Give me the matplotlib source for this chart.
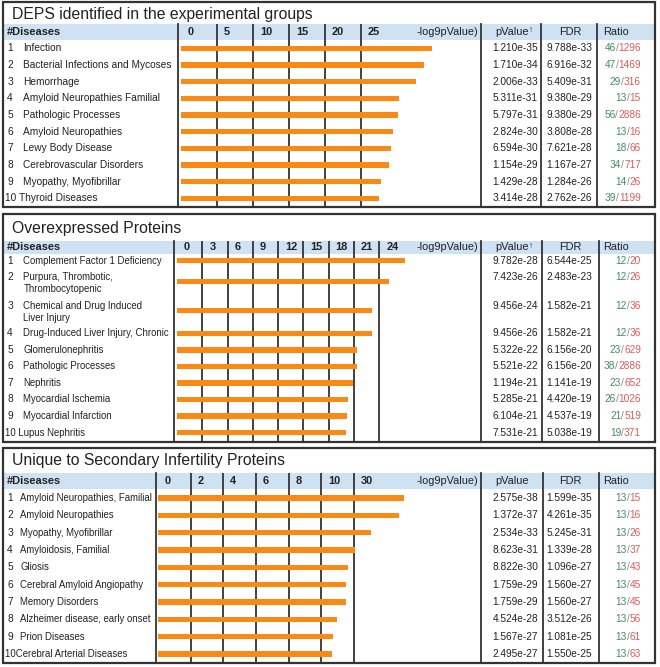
import matplotlib
matplotlib.use('Agg')
import matplotlib.pyplot as plt
from matplotlib.patches import Rectangle

plt.rcParams['font.family'] = ['Liberation Sans', 'DejaVu Sans']

W, H = 660, 667
ORANGE = '#fb8a14'
HEAD = '#cfe2f3'
LINE = '#333333'
TXT = '#222222'
GREEN = '#3f8f5f'
RED = '#df5b57'
SLASH = '#888888'
FS = 7.3
FS_HEAD = 7.9

# ---- DEPS identified in the experimental groups
deps_names = ['Infection', 'Bacterial Infections and Mycoses', 'Hemorrhage',
              'Amyloid Neuropathies Familial', 'Pathologic Processes',
              'Amyloid Neuropathies', 'Lewy Body Disease',
              'Cerebrovascular Disorders', 'Myopathy, Myofibrillar',
              'Thyroid Diseases']
deps_logp = [34.9, 33.8, 32.7, 30.3, 30.2, 29.5, 29.2, 28.9, 27.8, 27.5]
deps_pvalue = ['1.210e-35', '1.710e-34', '2.006e-33', '5.311e-31', '5.797e-31',
               '2.824e-30', '6.594e-30', '1.154e-29', '1.429e-28', '3.414e-28']
deps_fdr = ['9.788e-33', '6.916e-32', '5.409e-31', '9.380e-29', '9.380e-29',
            '3.808e-28', '7.621e-28', '1.167e-27', '1.284e-26', '2.762e-26']
deps_hits = [46, 47, 29, 13, 56, 13, 18, 34, 14, 39]
deps_total = [1296, 1469, 316, 15, 2886, 16, 66, 717, 26, 1199]
deps_ticks = [0, 5, 10, 15, 20, 25]
deps_tick_labels = ['0', '5', '10', '15', '20', '25']

# ---- Overexpressed Proteins
over_names = ['Complement Factor 1 Deficiency', 'Purpura, Thrombotic,\nThrombocytopenic',
              'Chemical and Drug Induced\nLiver Injury',
              'Drug-Induced Liver Injury, Chronic', 'Glomerulonephritis',
              'Pathologic Processes', 'Nephritis', 'Myocardial Ischemia',
              'Myocardial Infarction', 'Lupus Nephritis']
over_logp = [27.0, 25.2, 23.1, 23.1, 21.3, 21.3, 20.9, 20.3, 20.2, 20.1]
over_pvalue = ['9.782e-28', '7.423e-26', '9.456e-24', '9.456e-26', '5.322e-22',
               '5.521e-22', '1.194e-21', '5.285e-21', '6.104e-21', '7.531e-21']
over_fdr = ['6.544e-25', '2.483e-23', '1.582e-21', '1.582e-21', '6.156e-20',
            '6.156e-20', '1.141e-19', '4.420e-19', '4.537e-19', '5.038e-19']
over_hits = [12, 12, 12, 12, 23, 38, 23, 26, 21, 19]
over_total = [20, 26, 36, 36, 629, 2886, 652, 1026, 519, 371]
over_ticks = [0, 3, 6, 9, 12, 15, 18, 21, 24]
over_tick_labels = ['0', '3', '6', '9', '12', '15', '18', '21', '24']

# ---- Unique to Secondary Infertility Proteins
uniq_names = ['Amyloid Neuropathies, Familial', 'Amyloid Neuropathies',
              'Myopathy, Myofibrillar', 'Amyloidosis, Familial', 'Gliosis',
              'Cerebral Amyloid Angiopathy', 'Memory Disorders',
              'Alzheimer disease, early onset', 'Prion Diseases',
              'Cerebral Arterial Diseases']
uniq_logp = [37.6, 36.9, 32.6, 30.1, 29.1, 28.8, 28.8, 27.4, 26.8, 26.6]
uniq_pvalue = ['2.575e-38', '1.372e-37', '2.534e-33', '8.623e-31', '8.822e-30',
               '1.759e-29', '1.759e-29', '4.524e-28', '1.567e-27', '2.495e-27']
uniq_fdr = ['1.599e-35', '4.261e-35', '5.245e-31', '1.339e-28', '1.096e-27',
            '1.560e-27', '1.560e-27', '3.512e-26', '1.081e-25', '1.550e-25']
uniq_hits = [13, 13, 13, 13, 13, 13, 13, 13, 13, 13]
uniq_total = [15, 16, 26, 37, 43, 45, 45, 56, 61, 63]
uniq_ticks = [0, 5, 10, 15, 20, 25, 30]
uniq_tick_labels = ['0', '2', '4', '6', '8', '10', '30']

fig = plt.figure(figsize=(W / 100, H / 100), dpi=100)
bg = fig.add_axes([0, 0, 1, 1])
bg.set_xlim(0, W)
bg.set_ylim(H, 0)
bg.axis('off')
renderer = fig.canvas.get_renderer()


def panel(title, names, logp, pvals, fdrs, hits, totals, ticks, tick_labels,
          box, title_y, header, div, zero, scale, rows, cols, name_x,
          name_fs=FS, arrow=True, sep10=' '):
    top, bottom = box
    h0, h1 = header
    hc = (h0 + h1) / 2
    bg.add_patch(Rectangle((2.5, top), 652.5, bottom - top, fill=False,
                           ec=LINE, lw=1.6, zorder=6))
    bg.add_patch(Rectangle((2.5, h0), 652.5, h1 - h0, fc=HEAD, ec='none', zorder=1))
    bg.text(12, title_y, title, fontsize=11.3, va='center', color=TXT)
    bg.text(6.5, hc, '#Diseases', fontsize=FS_HEAD, fontweight='bold', va='center',
            color=TXT)

    c_chart, c_p, c_f = cols
    for x in (div, c_chart, c_p, c_f):
        bg.plot([x, x], [h0, bottom], color=LINE, lw=1.3, zorder=4)

    bg.text(478, hc, '-log9pValue)', fontsize=FS_HEAD, ha='right', va='center',
            color=TXT, zorder=5)
    bg.text(512, hc, 'pValue', fontsize=FS_HEAD, ha='center', va='center', color=TXT)
    if arrow:
        bg.text(531.5, hc - 1, '↑', fontsize=6, fontweight='bold', ha='center',
                va='center', color=TXT)
    bg.text(570, hc, 'FDR', fontsize=FS_HEAD, ha='center', va='center', color=TXT)
    bg.text(616, hc, 'Ratio', fontsize=FS_HEAD, ha='center', va='center', color=TXT)

    # bar chart column
    ax = fig.add_axes([div / W, 1 - bottom / H, (c_chart - div) / W, (bottom - h0) / H])
    x0 = (div - zero) / scale
    ax.set_xlim(x0, (c_chart - zero) / scale)
    ax.set_ylim(bottom, h0)
    ax.axis('off')
    ax.patch.set_alpha(0)
    ax.barh(rows, logp, height=5.5, color=ORANGE, zorder=3)
    for t, lab in zip(ticks, tick_labels):
        if t > 0:
            ax.axvline(t, color=LINE, lw=1.3, zorder=2)
        ax.annotate(lab, (max(t, x0), hc), xytext=(7, 0), textcoords='offset pixels',
                    fontsize=FS_HEAD, fontweight='bold', va='center', color=TXT)

    for i, (name, y) in enumerate(zip(names, rows)):
        multi = '\n' in name
        ty = y - 4.5 if multi else y
        ny = y + 1.5 if multi else y
        if i < 9:
            bg.text(7.3, ty, str(i + 1), fontsize=FS, ha='left', va='center', color=TXT)
            bg.text(name_x, ny, name, fontsize=name_fs, ha='left', va='center',
                    color=TXT, linespacing=1.3)
        else:
            bg.text(5, ny, str(i + 1) + sep10 + name, fontsize=name_fs, ha='left',
                    va='center', color=TXT)
        bg.text(538, ty, pvals[i], fontsize=FS, ha='right', va='center', color=TXT)
        bg.text(546.5, ty, fdrs[i], fontsize=FS, ha='left', va='center', color=TXT)
        t_tot = bg.text(641, ty, str(totals[i]), fontsize=FS, ha='right',
                        va='center', color=RED)
        xl = t_tot.get_window_extent(renderer).x0
        t_sl = bg.text(xl, ty, '/', fontsize=FS, ha='right', va='center', color=SLASH)
        xl = t_sl.get_window_extent(renderer).x0
        bg.text(xl, ty, str(hits[i]), fontsize=FS, ha='right', va='center', color=GREEN)


rows1 = [40 + 16.67 * (k + 0.5) for k in range(10)]
rows2 = [260.7, 281.7, 310.7] + [333.3 + 16.55 * k for k in range(7)]
rows3 = [489.3 + 17.34 * (k + 0.5) for k in range(10)]

panel('DEPS identified in the experimental groups', deps_names, deps_logp,
      deps_pvalue, deps_fdr, deps_hits, deps_total, deps_ticks, deps_tick_labels,
      box=(2, 207), title_y=14.5, header=(24, 40), div=178, zero=181, scale=7.2,
      rows=rows1, cols=(481, 541, 597), name_x=23.3)

panel('Overexpressed Proteins', over_names, over_logp, over_pvalue, over_fdr,
      over_hits, over_total, over_ticks, over_tick_labels,
      box=(214, 442), title_y=229, header=(241, 254), div=174, zero=177, scale=8.43,
      rows=rows2, cols=(481, 542, 599), name_x=23.3, name_fs=6.9)

panel('Unique to Secondary Infertility Proteins', uniq_names, uniq_logp, uniq_pvalue,
      uniq_fdr, uniq_hits, uniq_total, uniq_ticks, uniq_tick_labels,
      box=(448, 663), title_y=460, header=(473.3, 489.3), div=156, zero=158,
      scale=6.53, rows=rows3, cols=(481, 543, 599), name_x=20.5, name_fs=6.9,
      arrow=False, sep10='')

fig.savefig('out.png', dpi=100)
